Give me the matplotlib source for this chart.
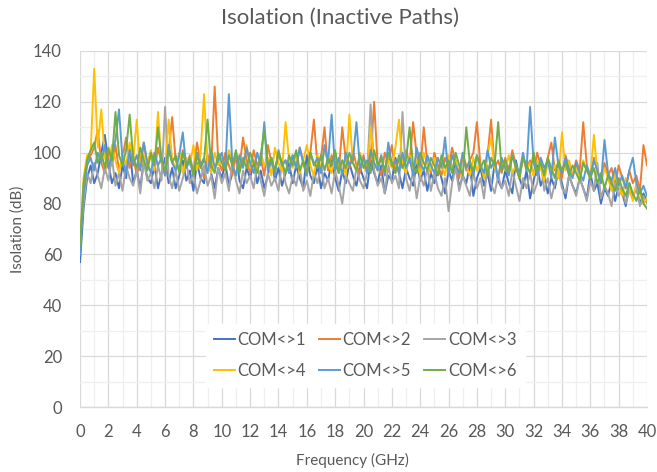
import numpy as np
import matplotlib
matplotlib.use("Agg")
import matplotlib.pyplot as plt
from matplotlib.ticker import MultipleLocator

plt.rcParams['font.family'] = ['Lato', 'DejaVu Sans']

# Frequency axis: 0 to 40 GHz in 0.25 GHz steps
step_ghz = 0.25
series_names = ["COM<>1", "COM<>2", "COM<>3", "COM<>4", "COM<>5", "COM<>6"]
series_colors = ["#4472C4", "#ED7D31", "#A5A5A5", "#FFC000", "#5B9BD5", "#70AD47"]

com1 = [57, 78, 90, 95, 88, 92, 100, 107, 96, 88, 92, 86, 95, 90, 102, 88, 93, 86, 97, 90,
        88, 95, 86, 92, 98, 88, 94, 86, 91, 97, 89, 93, 85, 96, 90, 88, 99, 92, 86, 94,
        90, 96, 87, 92, 100, 89, 86, 94, 90, 97, 88, 93, 86, 91, 98, 89, 94, 87, 92, 96,
        88, 95, 90, 86, 99, 91, 88, 95, 86, 92, 89, 97, 90, 85, 93, 88, 96, 91, 87, 94,
        90, 86, 97, 92, 88, 95, 84, 91, 89, 98, 92, 86, 94, 90, 87, 96, 89, 93, 85, 92,
        88, 95, 90, 84, 93, 89, 97, 86, 91, 88, 95, 83, 90, 94, 87, 92, 85, 96, 89, 86,
        93, 88, 84, 97, 90, 86, 93, 82, 89, 95, 87, 91, 84, 90, 86, 93, 88, 82, 91, 87,
        84, 90, 86, 82, 92, 85, 88, 80, 86, 83, 89, 81, 87, 84, 79, 88, 83, 86, 80, 84, 81]

com2 = [63, 85, 97, 99, 102, 109, 96, 92, 100, 95, 103, 93, 98, 106, 94, 99, 91, 97, 104, 95,
        99, 93, 102, 96, 91, 100, 114, 97, 93, 101, 95, 99, 92, 104, 96, 90, 99, 94, 126, 97,
        93, 100, 95, 91, 99, 94, 106, 97, 92, 101, 95, 98, 91, 103, 96, 93, 100, 95, 97, 92,
        99, 94, 102, 96, 91, 100, 113, 95, 98, 110, 93, 99, 96, 92, 110, 97, 94, 101, 95, 92,
        99, 93, 97, 120, 95, 91, 100, 96, 103, 92, 98, 94, 101, 96, 112, 99, 93, 110, 96, 92,
        100, 95, 91, 98, 94, 102, 96, 90, 99, 93, 97, 100, 112, 95, 91, 99, 113, 94, 97, 92,
        98, 93, 101, 95, 90, 99, 94, 97, 91, 100, 95, 92, 98, 104, 93, 96, 90, 99, 94, 91,
        97, 93, 112, 95, 90, 98, 93, 88, 96, 91, 94, 87, 95, 90, 86, 93, 88, 91, 85, 103, 95]

com3 = [65, 80, 92, 88, 96, 91, 86, 94, 89, 98, 87, 92, 85, 95, 90, 87, 93, 84, 97, 89,
        92, 86, 95, 89, 118, 91, 86, 93, 85, 90, 96, 88, 92, 84, 89, 95, 87, 91, 82, 94,
        88, 92, 85, 97, 89, 84, 93, 88, 91, 86, 95, 89, 83, 92, 87, 90, 85, 96, 88, 84,
        91, 87, 94, 85, 89, 83, 92, 88, 95, 86, 90, 84, 93, 87, 80, 91, 88, 85, 94, 89,
        86, 92, 119, 93, 87, 90, 84, 95, 88, 91, 86, 116, 90, 85, 93, 82, 91, 87, 94, 85,
        92, 86, 83, 90, 77, 88, 94, 85, 91, 87, 83, 92, 86, 90, 82, 95, 88, 84, 91, 86,
        89, 83, 93, 87, 81, 90, 86, 92, 84, 88, 97, 85, 90, 82, 88, 93, 86, 84, 91, 87,
        83, 90, 86, 81, 89, 85, 96, 82, 87, 84, 79, 88, 83, 86, 80, 85, 82, 87, 79, 83, 80]

com4 = [62, 90, 99, 100, 133, 102, 117, 98, 94, 103, 97, 92, 100, 95, 104, 97, 113, 94, 99, 96,
        101, 93, 116, 96, 92, 113, 97, 94, 100, 92, 98, 95, 103, 93, 99, 123, 96, 92, 100, 95,
        98, 93, 101, 96, 91, 99, 95, 103, 94, 97, 92, 100, 95, 98, 91, 102, 96, 93, 112, 97,
        94, 100, 92, 97, 103, 95, 91, 99, 94, 101, 96, 92, 99, 94, 97, 91, 115, 96, 93, 100,
        95, 92, 110, 96, 93, 99, 91, 97, 94, 102, 113, 95, 92, 99, 94, 97, 91, 100, 95, 93,
        98, 92, 96, 91, 99, 94, 97, 92, 100, 95, 91, 98, 93, 96, 90, 99, 106, 94, 91, 97,
        93, 99, 92, 95, 90, 98, 93, 96, 91, 97, 94, 89, 96, 92, 95, 90, 108, 93, 97, 91,
        95, 89, 97, 93, 90, 107, 92, 88, 94, 90, 85, 92, 87, 83, 90, 86, 81, 88, 84, 80, 82]

com5 = [60, 84, 95, 98, 93, 100, 96, 103, 94, 99, 105, 117, 97, 92, 101, 95, 99, 93, 104, 96,
        92, 100, 95, 98, 91, 103, 96, 93, 99, 108, 94, 97, 91, 100, 95, 98, 92, 101, 94, 97,
        100, 93, 123, 95, 91, 99, 94, 102, 96, 92, 100, 95, 112, 93, 98, 91, 101, 95, 97, 92,
        99, 94, 102, 96, 91, 100, 95, 98, 92, 103, 96, 115, 93, 98, 91, 100, 95, 97, 112, 94,
        98, 92, 101, 96, 93, 99, 91, 104, 95, 97, 92, 100, 94, 98, 91, 102, 96, 93, 99, 95,
        92, 98, 94, 106, 91, 99, 95, 92, 100, 94, 97, 91, 99, 95, 92, 101, 94, 97, 90, 98,
        94, 91, 99, 95, 92, 100, 93, 118, 96, 91, 98, 94, 97, 90, 106, 95, 92, 98, 93, 90,
        96, 92, 89, 95, 91, 97, 93, 88, 105, 92, 89, 94, 87, 91, 86, 93, 98, 88, 84, 87, 83]

com6 = [64, 88, 97, 101, 104, 96, 100, 94, 102, 97, 116, 99, 95, 101, 115, 98, 94, 102, 97, 93,
        100, 95, 110, 97, 93, 101, 96, 99, 92, 100, 95, 98, 91, 99, 94, 97, 113, 95, 92, 100,
        96, 93, 99, 95, 101, 92, 98, 94, 100, 96, 92, 99, 109, 95, 98, 93, 100, 96, 92, 99,
        95, 101, 93, 97, 92, 100, 96, 94, 99, 93, 98, 95, 101, 92, 97, 94, 100, 96, 93, 99,
        94, 97, 92, 101, 95, 98, 93, 100, 96, 92, 99, 94, 97, 110, 95, 92, 100, 96, 93, 98,
        95, 91, 99, 94, 97, 92, 100, 95, 91, 110, 96, 93, 99, 94, 97, 91, 98, 95, 112, 93,
        97, 92, 99, 94, 90, 98, 95, 92, 100, 93, 96, 91, 98, 94, 90, 97, 93, 96, 91, 95,
        92, 89, 96, 93, 90, 94, 88, 92, 86, 91, 88, 85, 90, 86, 83, 88, 84, 81, 86, 80, 78]

all_series = [com1, com2, com3, com4, com5, com6]

text_color = "#595959"

fig = plt.figure(figsize=(6.57, 4.72), dpi=100)
ax = fig.add_axes([0.1218, 0.1377, 0.8630, 0.7543])

handles = []
for name, color, vals in zip(series_names, series_colors, all_series):
    freq = np.arange(len(vals)) * step_ghz
    line, = ax.plot(freq, vals, color=color, lw=1.4, label=name, solid_joinstyle="round")
    handles.append(line)

ax.set_xlim(0, 40)
ax.set_ylim(0, 140)
ax.xaxis.set_major_locator(MultipleLocator(2))
ax.xaxis.set_minor_locator(MultipleLocator(1))
ax.yaxis.set_major_locator(MultipleLocator(20))
ax.yaxis.set_minor_locator(MultipleLocator(10))

ax.grid(which="major", color="#D9D9D9", lw=0.9)
ax.grid(which="minor", color="#EFEFEF", lw=0.9)
ax.set_axisbelow(True)

for side in ["top", "left", "right"]:
    ax.spines[side].set_visible(False)
ax.spines["bottom"].set_color("#D9D9D9")
ax.spines["bottom"].set_linewidth(1.0)

ax.tick_params(which="both", length=0, labelsize=12, labelcolor=text_color)
ax.tick_params(axis="x", pad=12)
ax.tick_params(axis="y", pad=13)

ax.set_xlabel("Frequency (GHz)", fontsize=11, color=text_color)
ax.xaxis.set_label_coords(0.48, -0.13)
ax.set_ylabel("Isolation (dB)", fontsize=11, color=text_color)
ax.yaxis.set_label_coords(-0.097, 0.5)
fig.text(0.5175, 0.983, "Isolation (Inactive Paths)", ha="center", va="top",
         fontsize=16, color=text_color)

# Legend filled row by row: 1 2 3 / 4 5 6
order = [0, 3, 1, 4, 2, 5]
leg = ax.legend([handles[i] for i in order], [series_names[i] for i in order],
                loc="center", bbox_to_anchor=(0.503, 0.145), ncol=3,
                frameon=True, fontsize=12, handlelength=1.25, handletextpad=0.15,
                columnspacing=0.8, borderpad=0.5, labelspacing=0.9)
leg.get_frame().set_facecolor("white")
leg.get_frame().set_edgecolor("white")
leg.get_frame().set_alpha(1.0)
leg.get_frame().set_boxstyle("square", pad=0)
for t in leg.get_texts():
    t.set_color(text_color)

fig.savefig("out.png", dpi=100)
